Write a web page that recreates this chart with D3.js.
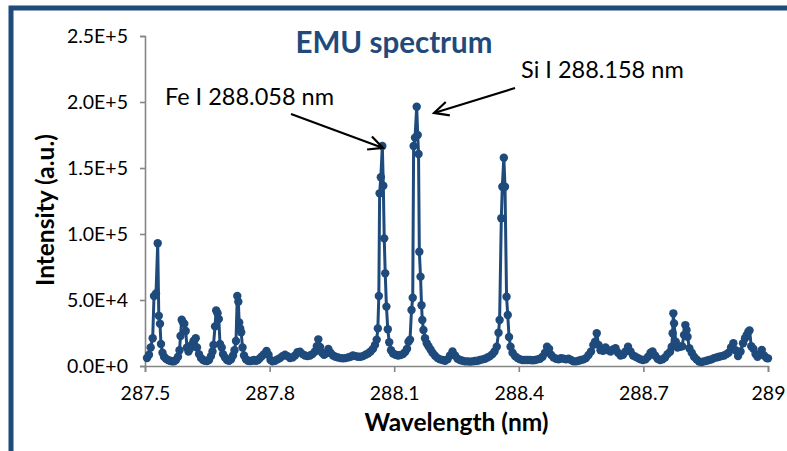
<!DOCTYPE html>
<html>
<head>
<meta charset="utf-8">
<script src="https://cdn.jsdelivr.net/npm/d3@7"></script>
<style>
  html, body { margin: 0; padding: 0; background: #fff; }
  svg { display: block; }
  text { font-family: Lato, "Open Sans", "Liberation Sans", sans-serif; }
</style>
</head>
<body>
<svg id="chart" width="787" height="451"></svg>
<script>
// ---- data ----
const wavelength = [
287.5048,287.5096,287.5137,287.5185,287.5217,287.5265,287.5306,287.5332,287.5361,287.5385,
287.5421,287.5458,287.5506,287.5554,287.5602,287.5650,287.5698,287.5746,287.5795,287.5831,
287.5855,287.5884,287.5915,287.5946,287.5980,287.6011,287.6047,287.6084,287.6120,287.6168,
287.6221,287.6252,287.6300,287.6348,287.6397,287.6445,287.6493,287.6541,287.6589,287.6625,
287.6649,287.6686,287.6714,287.6746,287.6777,287.6806,287.6847,287.6878,287.6926,287.6975,
287.7023,287.7071,287.7119,287.7155,287.7191,287.7222,287.7247,287.7268,287.7292,287.7316,
287.7348,287.7384,287.7432,287.7480,287.7528,287.7576,287.7625,287.7673,287.7721,287.7769,
287.7817,287.7865,287.7926,287.7974,287.8022,287.8070,287.8130,287.8191,287.8251,287.8311,
287.8371,287.8431,287.8491,287.8552,287.8612,287.8672,287.8732,287.8792,287.8853,287.8913,
287.8973,287.9033,287.9093,287.9137,287.9173,287.9214,287.9262,287.9310,287.9358,287.9414,
287.9467,287.9527,287.9587,287.9647,287.9707,287.9768,287.9828,287.9888,287.9948,288.0008,
288.0069,288.0129,288.0189,288.0249,288.0309,288.0370,288.0430,288.0490,288.0538,288.0579,
288.0606,288.0630,288.0649,288.0678,288.0714,288.0738,288.0760,288.0784,288.0813,288.0846,
288.0880,288.0923,288.0972,288.1032,288.1092,288.1152,288.1212,288.1261,288.1309,288.1345,
288.1381,288.1417,288.1446,288.1468,288.1501,288.1542,288.1566,288.1586,288.1605,288.1634,
288.1658,288.1677,288.1704,288.1742,288.1783,288.1826,288.1875,288.1923,288.1983,288.2043,
288.2103,288.2164,288.2224,288.2284,288.2344,288.2404,288.2465,288.2525,288.2585,288.2645,
288.2705,288.2765,288.2826,288.2886,288.2946,288.3006,288.3066,288.3127,288.3187,288.3247,
288.3307,288.3367,288.3416,288.3469,288.3512,288.3538,288.3579,288.3603,288.3640,288.3668,
288.3705,288.3734,288.3765,288.3801,288.3849,288.3909,288.3969,288.4030,288.4090,288.4150,
288.4210,288.4270,288.4331,288.4391,288.4451,288.4511,288.4571,288.4632,288.4680,288.4728,
288.4776,288.4836,288.4897,288.4957,288.5017,288.5077,288.5137,288.5197,288.5258,288.5318,
288.5378,288.5438,288.5498,288.5559,288.5619,288.5679,288.5739,288.5795,288.5836,288.5877,
288.5920,288.5968,288.6028,288.6088,288.6149,288.6209,288.6269,288.6329,288.6389,288.6450,
288.6510,288.6570,288.6630,288.6690,288.6751,288.6811,288.6871,288.6931,288.6991,288.7052,
288.7112,288.7172,288.7220,288.7280,288.7341,288.7401,288.7461,288.7521,288.7581,288.7642,
288.7682,288.7704,288.7721,288.7738,288.7779,288.7822,288.7882,288.7930,288.7979,288.8010,
288.8039,288.8063,288.8106,288.8164,288.8219,288.8280,288.8340,288.8400,288.8460,288.8520,
288.8581,288.8641,288.8701,288.8761,288.8821,288.8882,288.8942,288.9002,288.9050,288.9110,
288.9166,288.9219,288.9279,288.9339,288.9399,288.9447,288.9488,288.9527,288.9556,288.9597,
288.9647,288.9700,288.9748,288.9797,288.9850,288.9905,288.9965,289.0000
];
const intensity = [
6000,8500,14000,21000,53000,55000,93000,38000,32000,16700,
10000,7000,5500,4500,4000,3500,3500,4500,7000,12000,
22700,35000,33000,32000,26500,14000,11000,13000,16000,19000,
21000,14000,9000,6000,4500,4000,3800,4500,7500,11000,
16000,30000,42000,40000,35600,16700,14000,9000,6500,4500,
4000,5000,8000,12000,19000,53000,48700,33000,28500,25500,
14000,8000,5000,4000,3800,4000,4500,4000,4500,6000,
7500,9000,11400,8500,4500,3500,4000,5000,6000,7500,
8500,7500,6000,6500,8000,10500,10800,9000,8000,7500,
8000,9000,11000,15000,20200,14500,10000,8500,9500,12900,
10000,8000,7000,6500,6000,5800,6000,6500,7000,8000,
7500,7000,7000,7500,8500,9500,11000,13000,16000,20000,
28500,53000,130800,143000,166700,136600,96700,70200,45000,27800,
18000,12000,9500,8500,8000,8300,9000,10500,13000,18400,
20000,42400,51700,166700,173000,196400,175000,160600,86600,67700,
46000,34800,27300,21000,17200,15000,12500,10000,7800,6000,
5000,4500,4000,5000,8000,11000,8000,5500,4500,4000,
3500,3500,3300,3500,3800,4000,4500,5000,5500,6500,
7500,9000,11000,14600,25200,34800,111900,135800,157800,135800,
52500,38600,22000,14600,10000,7500,6000,5000,4500,4500,
4500,4500,4300,4500,5000,5500,7000,10000,14600,13000,
8500,6500,5500,5000,6000,5500,5000,5500,4500,3500,
3500,4000,4500,5000,6000,8300,11000,16000,18400,24800,
16000,12000,11500,14000,12000,11000,12500,13500,10000,8000,
8500,11000,14600,11000,8000,7000,6000,5000,4500,5000,
7000,10000,11000,8000,5500,4500,5000,6500,9000,10800,
14600,24800,39900,32300,18400,14000,14600,15000,23500,31000,
27300,22200,13400,10000,7000,5000,3300,3000,3500,4000,
4500,5000,6000,6500,7000,7500,8000,9000,10000,14000,
17200,12000,7500,11000,17200,21000,23500,26000,27000,15000,
13000,9000,7000,9000,12100,8000,6000,5800
];
const xTicks = [287.5, 287.8, 288.1, 288.4, 288.7, 289];
const xTickLabels = ["287.5", "287.8", "288.1", "288.4", "288.7", "289"];
const yTicks = [0, 50000, 100000, 150000, 200000, 250000];
const yTickLabels = ["0.0E+0", "5.0E+4", "1.0E+5", "1.5E+5", "2.0E+5", "2.5E+5"];
const chartTitle = "EMU spectrum";
const xTitle = "Wavelength (nm)";
const yTitle = "Intensity (a.u.)";
// annotations: text anchor and arrow (start -> tip) in data coordinates
const annLabels = ["Fe I 288.058 nm", "Si I 288.158 nm"];
const annTextPos = [[287.548, 198000], [288.4054, 218200]];
const annArrowFrom = [[287.8516, 190900], [288.3909, 210600]];
const annArrowTo = [[288.0731, 165200], [288.1959, 191700]];

// ---- drawing ----
const blue = "#1F4A7C";
const axisGray = "#868686";
const svg = d3.select("#chart");

// outer frame
svg.append("rect")
  .attr("x", 11).attr("y", 8)
  .attr("width", 820).attr("height", 480)
  .attr("fill", "none").attr("stroke", blue).attr("stroke-width", 5);

const x = d3.scaleLinear().domain([287.5, 289]).range([145, 768]);
const y = d3.scaleLinear().domain([0, 250000]).range([366, 36]);

// axes
const yAxis = d3.axisLeft(y).tickValues(yTicks)
  .tickFormat((d, i) => yTickLabels[i]).tickSize(5).tickPadding(12);
const gy = svg.append("g").attr("transform", `translate(${x.range()[0]},0)`).call(yAxis);
const xAxis = d3.axisBottom(x).tickValues(xTicks)
  .tickFormat((d, i) => xTickLabels[i]).tickSize(6).tickPadding(14);
const gx = svg.append("g").attr("transform", `translate(0,${y.range()[0]})`).call(xAxis);
[gx, gy].forEach(g => {
  g.select(".domain").attr("stroke", axisGray).attr("stroke-width", 1.6);
  g.selectAll(".tick line").attr("stroke", axisGray).attr("stroke-width", 1.6);
  g.selectAll(".tick text").attr("fill", "#000")
    .style("font-size", "19.5px")
    .style("font-family", "Lato, 'Open Sans', sans-serif");
});

// series
const pts = d3.zip(wavelength, intensity);
const line = d3.line().x(d => x(d[0])).y(d => y(d[1]));
svg.append("path").datum(pts)
  .attr("d", line).attr("fill", "none")
  .attr("stroke", blue).attr("stroke-width", 3).attr("stroke-linejoin", "round");
svg.append("g").selectAll("circle").data(pts).join("circle")
  .attr("cx", d => x(d[0])).attr("cy", d => y(d[1])).attr("r", 4.2)
  .attr("fill", blue);

// titles
svg.append("text").text(chartTitle)
  .attr("x", 394).attr("y", 53).attr("text-anchor", "middle")
  .attr("fill", blue).style("font-weight", "bold").style("font-size", "29.5px");
svg.append("text").text(xTitle)
  .attr("x", (x.range()[0] + x.range()[1]) / 2).attr("y", 431).attr("text-anchor", "middle")
  .attr("fill", "#000").style("font-weight", "bold").style("font-size", "24.5px");
svg.append("text").text(yTitle)
  .attr("transform", `translate(54,${(y.range()[0] + y.range()[1]) / 2 + 9}) rotate(-90)`)
  .attr("text-anchor", "middle")
  .attr("fill", "#000").style("font-weight", "bold").style("font-size", "24.5px");

// annotations
annLabels.forEach((lab, i) => {
  svg.append("text").text(lab)
    .attr("x", x(annTextPos[i][0])).attr("y", y(annTextPos[i][1]))
    .attr("fill", "#000").style("font-size", "23.5px");
  const x1 = x(annArrowFrom[i][0]), y1 = y(annArrowFrom[i][1]);
  const x2 = x(annArrowTo[i][0]), y2 = y(annArrowTo[i][1]);
  svg.append("line").attr("x1", x1).attr("y1", y1).attr("x2", x2).attr("y2", y2)
    .attr("stroke", "#000").attr("stroke-width", 2.2);
  const ang = Math.atan2(y2 - y1, x2 - x1);
  const L = 16, spread = 0.45;
  const hp = [ang - spread, ang + spread].map(a => [x2 - L * Math.cos(a), y2 - L * Math.sin(a)]);
  svg.append("path")
    .attr("d", `M${hp[0][0]},${hp[0][1]}L${x2},${y2}L${hp[1][0]},${hp[1][1]}`)
    .attr("fill", "none").attr("stroke", "#000").attr("stroke-width", 2.2)
    .attr("stroke-linejoin", "miter");
});
</script>
</body>
</html>
